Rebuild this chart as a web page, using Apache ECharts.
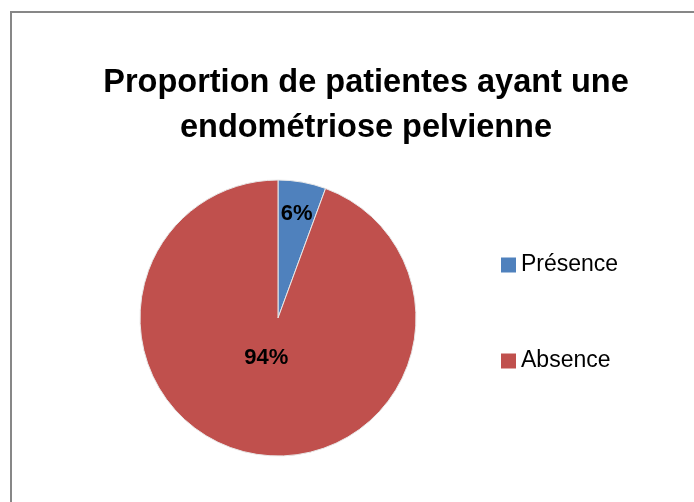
<!DOCTYPE html>
<html>
<head>
<meta charset="utf-8">
<script src="https://cdn.jsdelivr.net/npm/echarts@6/dist/echarts.min.js"></script>
<style>html,body{margin:0;padding:0;background:#fff}#c{width:694px;height:502px}</style>
</head>
<body>
<div id="c"></div>
<script>
const titleText = 'Proportion de patientes ayant une\nendométriose pelvienne';
const categories = ['Présence', 'Absence'];
const values = [5.6, 94.4];
const colors = ['#4F81BD', '#C0504D'];

const chart = echarts.init(document.getElementById('c'), null, {renderer: 'canvas'});
const FONT = '"Liberation Sans", Arial, sans-serif';
const CENTER = [278, 318];
const R = 138;

function dataWith(showIdx) {
  return categories.map((n, i) => ({
    name: n, value: values[i],
    label: {show: i === showIdx}
  }));
}
const fmt = p => Math.round(p.percent) + '%';
const labelStyle = {position: 'inside', formatter: fmt, color: '#000', fontFamily: FONT, fontWeight: 'bold', fontSize: 22};

chart.setOption({
  animation: false,
  color: colors,
  title: {
    text: titleText, left: 366, top: 61, textAlign: 'center', padding: 0,
    textStyle: {fontFamily: FONT, fontWeight: 'bold', fontSize: 32.5, lineHeight: 45, color: '#000'}
  },
  legend: {
    orient: 'vertical', left: 501, top: 253, padding: 0,
    data: categories,
    itemWidth: 15, itemHeight: 15, itemGap: 72,
    icon: 'rect',
    itemStyle: {borderWidth: 0},
    textStyle: {fontFamily: FONT, fontSize: 23, lineHeight: 24, color: '#000'}
  },
  graphic: [{
    type: 'rect', silent: true,
    shape: {x: 11, y: 12, width: 800, height: 600},
    style: {fill: null, stroke: '#878787', lineWidth: 2}
  }],
  series: [
    {
      type: 'pie', center: CENTER, radius: R, startAngle: 90, clockwise: true,
      label: {show: false}, labelLine: {show: false},
      itemStyle: {borderColor: '#e8e8e8', borderWidth: 1},
      emphasis: {disabled: true},
      data: categories.map((n, i) => ({name: n, value: values[i]}))
    },
    {
      type: 'pie', center: CENTER, radius: [68, 138], startAngle: 90, silent: true,
      itemStyle: {color: 'rgba(0,0,0,0)'}, labelLine: {show: false},
      label: labelStyle, emphasis: {disabled: true},
      data: dataWith(0)
    },
    {
      type: 'pie', center: CENTER, radius: [0, 76], startAngle: 90, silent: true,
      itemStyle: {color: 'rgba(0,0,0,0)'}, labelLine: {show: false},
      label: Object.assign({}, labelStyle, {padding: [0, 9, 5, 0]}), emphasis: {disabled: true},
      data: dataWith(1)
    }
  ]
});
</script>
</body>
</html>
